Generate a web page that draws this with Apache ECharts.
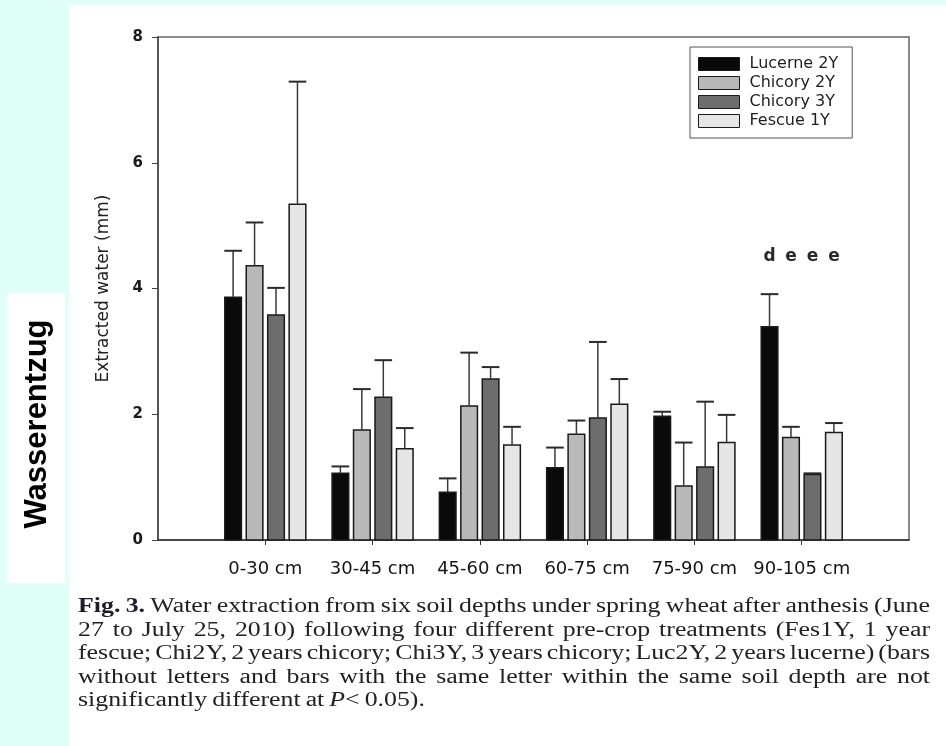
<!DOCTYPE html>
<html><head><meta charset="utf-8">
<script src="https://cdn.jsdelivr.net/npm/echarts@6/dist/echarts.min.js"></script>
<style>html,body{margin:0;padding:0;background:#e0fff9;}#c{width:946px;height:746px;}</style>
</head><body><div id="c"></div>
<script>
// ---------- data ----------
const categories = ['0-30 cm', '30-45 cm', '45-60 cm', '60-75 cm', '75-90 cm', '90-105 cm'];
const seriesNames = ['Lucerne 2Y', 'Chicory 2Y', 'Chicory 3Y', 'Fescue 1Y'];
const lucerne2Y = [3.86, 1.06, 0.76, 1.15, 1.97, 3.39];
const lucerne2YSE = [0.74, 0.11, 0.22, 0.32, 0.07, 0.52];
const chicory2Y = [4.36, 1.75, 2.13, 1.68, 0.86, 1.63];
const chicory2YSE = [0.69, 0.65, 0.85, 0.22, 0.69, 0.17];
const chicory3Y = [3.58, 2.27, 2.56, 1.94, 1.16, 1.04];
const chicory3YSE = [0.43, 0.59, 0.19, 1.21, 1.04, 0.02];
const fescue1Y = [5.34, 1.45, 1.51, 2.16, 1.55, 1.71];
const fescue1YSE = [1.95, 0.33, 0.29, 0.40, 0.44, 0.15];
const lucerne2YLetters = ['', '', '', '', '', 'd'];
const chicory2YLetters = ['', '', '', '', '', 'e'];
const chicory3YLetters = ['', '', '', '', '', 'e'];
const fescue1YLetters = ['', '', '', '', '', 'e'];
const yTicks = [0, 2, 4, 6, 8];
const captionLines = [
  '**Fig. 3.** Water extraction from six soil depths under spring wheat after anthesis (June',
  '27 to July 25, 2010) following four different pre-crop treatments (Fes1Y, 1 year',
  'fescue; Chi2Y, 2 years chicory; Chi3Y, 3 years chicory; Luc2Y, 2 years lucerne) (bars',
  'without letters and bars with the same letter within the same soil depth are not',
  'significantly different at _P_< 0.05).'
];
const sideLabel = 'Wasserentzug';

// ---------- styles ----------
const fills = ['#0a0a0a', '#b9b9b9', '#6d6d6d', '#e6e6e6'];
const offsets = [-0.3, -0.1, 0.1, 0.3];
const barFrac = 0.155;
const letterLevel = 4.5;
const SANS = '"DejaVu Sans", sans-serif';

const chart = echarts.init(document.getElementById('c'));

function makeSeries(si, means, se, letters) {
  return {
    type: 'custom',
    name: seriesNames[si],
    itemStyle: { color: fills[si], borderColor: '#1a1a1a', borderWidth: 1 },
    data: means.map((m, i) => [i + 1, m, se[i], letters[i]]),
    encode: { x: 0, y: 1 },
    renderItem: function (params, api) {
      const idx = api.value(0), v = api.value(1), e = api.value(2);
      const letter = letters[params.dataIndex];
      const p0 = api.coord([idx, 0]);
      const p1 = api.coord([idx + 1, 0]);
      const band = p1[0] - p0[0];
      const cx = p0[0] + offsets[si] * band;
      const bw = barFrac * band;
      const yTop = api.coord([idx, v])[1];
      const yErr = api.coord([idx, v + e])[1];
      const children = [
        { type: 'rect', shape: { x: cx - bw / 2, y: yTop, width: bw, height: p0[1] - yTop },
          style: { fill: fills[si], stroke: '#1a1a1a', lineWidth: 1.5 } },
        { type: 'line', shape: { x1: cx, y1: yTop, x2: cx, y2: yErr },
          style: { stroke: '#3a3a3a', lineWidth: 1.5 } },
        { type: 'line', shape: { x1: cx - bw / 2 - 0.5, y1: yErr, x2: cx + bw / 2 + 0.5, y2: yErr },
          style: { stroke: '#2a2a2a', lineWidth: 2 } }
      ];
      if (letter) {
        const yl = api.coord([idx, letterLevel])[1];
        children.push({ type: 'text', x: cx, y: yl,
          style: { text: letter, fill: '#2a2a2a', font: 'bold 17px ' + SANS, align: 'center', verticalAlign: 'middle' } });
      }
      return { type: 'group', children: children };
    }
  };
}

// ---------- caption layout (justified) ----------
const CAP_SIZE = 20, CAP_X0 = 78, CAP_X1 = 930, CAP_Y0 = 607, CAP_LH = 23.5;
const CAP_FONT = '"Liberation Serif", serif';
const mctx = document.createElement('canvas').getContext('2d');
function fontStr(seg) { return (seg.italic ? 'italic ' : '') + (seg.bold ? 'bold ' : '') + CAP_SIZE + 'px ' + CAP_FONT; }
function parseLine(line) {
  const words = []; let bold = false;
  line.split(' ').forEach(raw => {
    const segs = []; let italic = false;
    raw.split(/(\*\*|_)/).forEach(p => {
      if (p === '**') { bold = !bold; return; }
      if (p === '_') { italic = !italic; return; }
      if (p) {
        const seg = { t: p, bold: bold, italic: italic };
        mctx.font = fontStr(seg); seg.w = mctx.measureText(p).width;
        segs.push(seg);
      }
    });
    words.push({ segs: segs, w: segs.reduce((a, s) => a + s.w, 0) });
  });
  return words;
}
const parsed = captionLines.map(parseLine);
const W = CAP_X1 - CAP_X0, sMin = 4;
let k = Infinity;
parsed.forEach((ws, li) => {
  if (li === parsed.length - 1) return;
  const nat = ws.reduce((a, w) => a + w.w, 0);
  k = Math.min(k, (W - (ws.length - 1) * sMin) / nat);
});
k = Math.max(0.8, Math.min(1.3, k));
const captionEls = [];
parsed.forEach((ws, li) => {
  const nat = ws.reduce((a, w) => a + w.w, 0) * k;
  const last = li === parsed.length - 1;
  const gap = last ? 5 : (W - nat) / (ws.length - 1);
  let x = CAP_X0;
  const y = CAP_Y0 + li * CAP_LH;
  ws.forEach(w => {
    let sx = x;
    w.segs.forEach(s => {
      captionEls.push({ type: 'text', x: sx, y: y, scaleX: k, z: 5,
        style: { text: s.t, font: fontStr(s), fill: s.bold ? '#1c1c2a' : '#222', align: 'left', verticalAlign: 'middle' } });
      sx += s.w * k;
    });
    x += w.w * k + gap;
  });
});

const option = {
  animation: false,
  backgroundColor: 'transparent',
  grid: { left: 158, top: 37, right: 37, bottom: 206, show: true, borderColor: '#666', borderWidth: 1.5, backgroundColor: '#fff' },
  legend: {
    orient: 'vertical', left: 690, top: 47,
    padding: [9, 14, 9, 8], itemWidth: 41, itemHeight: 13, itemGap: 3,
    borderColor: '#555', borderWidth: 1, backgroundColor: '#fff',
    icon: 'rect',
    textStyle: { fontFamily: SANS, fontSize: 16, color: '#1e1e1e', padding: [0, 0, 0, 5] },
    data: seriesNames.map((n, i) => ({ name: n, itemStyle: { color: fills[i], borderColor: '#1a1a1a', borderWidth: 1 } }))
  },
  xAxis: {
    type: 'category', boundaryGap: false,
    data: [''].concat(categories, ['']),
    axisLine: { lineStyle: { color: '#333', width: 1.5 } },
    axisTick: { show: true, length: 5, interval: (i) => i > 0 && i <= categories.length, lineStyle: { color: '#333' } },
    axisLabel: { interval: 0, margin: 20, fontFamily: SANS, fontSize: 18, color: '#151515' },
    splitLine: { show: false }
  },
  yAxis: {
    type: 'value', min: yTicks[0], max: yTicks[yTicks.length - 1], interval: 2,
    name: 'Extracted water (mm)', nameLocation: 'middle', nameGap: 46,
    nameTextStyle: { fontFamily: SANS, fontSize: 17, color: '#222' },
    axisLine: { show: true, lineStyle: { color: '#444', width: 1.5 } },
    axisTick: { show: true, length: 6, lineStyle: { color: '#444' } },
    axisLabel: { margin: 15, fontFamily: SANS, fontSize: 15, fontWeight: 'bold', color: '#1a1a1a' },
    splitLine: { show: false }
  },
  graphic: [
    { type: 'rect', z: -10, shape: { x: 69, y: 5, width: 877, height: 741 }, style: { fill: '#fff' } },
    { type: 'rect', z: -10, shape: { x: 7, y: 293, width: 58, height: 290 }, style: { fill: '#fff' } },
    { type: 'text', x: 37, y: 424, rotation: Math.PI / 2, z: 5,
      style: { text: sideLabel, font: 'bold 31px "Liberation Sans", Arial, sans-serif', fill: '#000', align: 'center', verticalAlign: 'middle' } }
  ].concat(captionEls),
  series: [
    makeSeries(0, lucerne2Y, lucerne2YSE, lucerne2YLetters),
    makeSeries(1, chicory2Y, chicory2YSE, chicory2YLetters),
    makeSeries(2, chicory3Y, chicory3YSE, chicory3YLetters),
    makeSeries(3, fescue1Y, fescue1YSE, fescue1YLetters)
  ]
};
chart.setOption(option);
</script>
</body></html>
